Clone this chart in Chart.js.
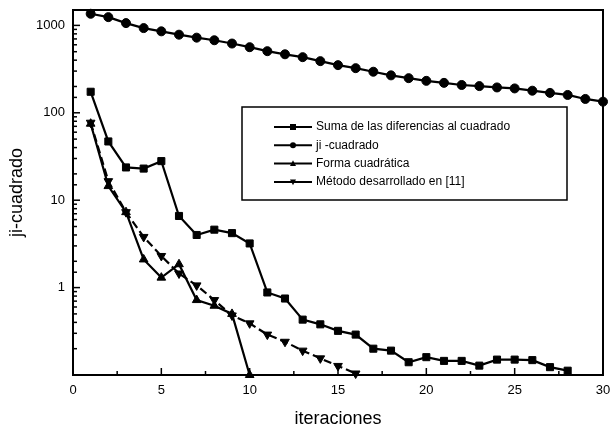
<!DOCTYPE html>
<html>
<head>
<meta charset="utf-8">
<script src="https://cdn.jsdelivr.net/npm/chart.js@4.4.1/dist/chart.umd.min.js"></script>
<style>
  html, body { margin: 0; padding: 0; background: #fff; }
  #wrap { width: 612px; height: 430px; }
</style>
</head>
<body>
<div id="wrap"><canvas id="chart" width="612" height="430"></canvas></div>
<script>
// values (log y axis)
const iteraciones = [1, 2, 3, 4, 5, 6, 7, 8, 9, 10, 11, 12, 13, 14, 15, 16, 17, 18, 19, 20, 21, 22, 23, 24, 25, 26, 27, 28, 29, 30];
const sumaDiferencias = [174, 47, 23.7, 23, 28, 6.6, 4.0, 4.6, 4.2, 3.2, 0.88, 0.75, 0.43, 0.38, 0.32, 0.29, 0.20, 0.19, 0.14, 0.16, 0.145, 0.145, 0.128, 0.15, 0.15, 0.148, 0.123, 0.112];
const jiCuadrado = [1358, 1243, 1062, 931, 855, 783, 724, 676, 620, 563, 507, 467, 433, 390, 351, 324, 295, 268, 249, 232, 220, 208, 202, 195, 190, 179, 169, 160, 144, 134];
const formaCuadratica = [75, 14.5, 7.3, 2.1, 1.3, 1.85, 0.72, 0.62, 0.5, 0.1];
const metodo11 = [77, 16.5, 7.3, 3.8, 2.3, 1.45, 1.06, 0.72, 0.48, 0.39, 0.29, 0.24, 0.19, 0.155, 0.127, 0.104];
const etiquetas = ['Suma de las diferencias al cuadrado', 'ji -cuadrado', 'Forma cuadrática', 'Método desarrollado en [11]'];
const yLabels = [1, 10, 100, 1000];

const FONT = "'Liberation Sans', Arial, sans-serif";

function pts(vals) {
    return vals.map((v, i) => ({ x: iteraciones[i], y: v }));
}

function drawMarker(ctx, style, x, y, r) {
    ctx.beginPath();
    if (style === 'rect') {
        ctx.rect(x - r, y - r, 2 * r, 2 * r);
    } else if (style === 'circle') {
        ctx.arc(x, y, r, 0, Math.PI * 2);
    } else if (style === 'up') {
        ctx.moveTo(x, y - r * 1.1);
        ctx.lineTo(x + r, y + r * 0.8);
        ctx.lineTo(x - r, y + r * 0.8);
        ctx.closePath();
    } else {
        ctx.moveTo(x, y + r * 1.1);
        ctx.lineTo(x + r, y - r * 0.8);
        ctx.lineTo(x - r, y - r * 0.8);
        ctx.closePath();
    }
    ctx.fill();
}

// frame, inward ticks and the boxed legend
const framePlugin = {
    id: 'frame',
    afterDraw(chart) {
        const ctx = chart.ctx;
        const a = chart.chartArea;
        ctx.save();
        ctx.strokeStyle = '#000';
        ctx.lineWidth = 2;
        ctx.strokeRect(a.left, a.top, a.right - a.left, a.bottom - a.top);

        // y ticks pointing into the plot
        ctx.lineWidth = 1.5;
        const ys = chart.scales.y;
        ys.ticks.forEach(t => {
            const py = ys.getPixelForValue(t.value);
            if (py < a.top || py > a.bottom) return;
            const lg = Math.log10(t.value);
            const major = Math.abs(lg - Math.round(lg)) < 1e-6;
            ctx.beginPath();
            ctx.moveTo(a.left, py);
            ctx.lineTo(a.left + (major ? 7 : 4), py);
            ctx.stroke();
        });
        const xs = chart.scales.x;
        xs.ticks.forEach(t => {
            const px = xs.getPixelForValue(t.value);
            const major = t.value % 5 === 0;
            ctx.beginPath();
            ctx.moveTo(px, a.bottom);
            ctx.lineTo(px, a.bottom - (major ? 7 : 4));
            ctx.stroke();
        });

        // legend box
        const bx = a.left + 169, by = a.top + 97, bw = 325, bh = 93;
        ctx.fillStyle = '#fff';
        ctx.fillRect(bx, by, bw, bh);
        ctx.lineWidth = 1.5;
        ctx.strokeRect(bx, by, bw, bh);
        const styles = ['rect', 'circle', 'up', 'down'];
        ctx.font = '12px ' + FONT;
        ctx.textBaseline = 'middle';
        ctx.fillStyle = '#000';
        chart.data.datasets.forEach((ds, i) => {
            const ly = by + 20 + i * 18.3;
            const lx = bx + 32;
            ctx.lineWidth = 2;
            ctx.beginPath();
            ctx.moveTo(lx, ly);
            ctx.lineTo(lx + 38, ly);
            ctx.stroke();
            drawMarker(ctx, styles[i], lx + 19, ly, 3);
            ctx.fillText(ds.label, lx + 42, ly);
        });
        ctx.restore();
    }
};

const common = {
    borderColor: '#000',
    backgroundColor: '#000',
    pointBackgroundColor: '#000',
    pointBorderColor: '#000',
    borderWidth: 2.2,
    pointBorderWidth: 1,
    tension: 0,
    clip: false
};

new Chart(document.getElementById('chart').getContext('2d'), {
    type: 'line',
    data: {
        datasets: [
            Object.assign({ label: etiquetas[0], data: pts(sumaDiferencias), pointStyle: 'rect', pointRadius: 5 }, common),
            Object.assign({ label: etiquetas[1], data: pts(jiCuadrado), pointStyle: 'circle', pointRadius: 4.5 }, common),
            Object.assign({ label: etiquetas[2], data: pts(formaCuadratica), pointStyle: 'triangle', pointRadius: 5 }, common),
            Object.assign({ label: etiquetas[3], data: pts(metodo11), pointStyle: 'triangle', pointRotation: 180, pointRadius: 5, borderDash: [8, 4] }, common)
        ]
    },
    options: {
        responsive: false,
        animation: false,
        layout: { padding: { left: 0, right: 9, top: 10, bottom: 0 } },
        plugins: {
            legend: { display: false },
            tooltip: { enabled: false }
        },
        scales: {
            x: {
                type: 'linear',
                min: 0,
                max: 30,
                grid: { display: false, drawTicks: false },
                border: { display: false },
                ticks: {
                    stepSize: 2.5,
                    autoSkip: false,
                    maxRotation: 0,
                    padding: 8,
                    color: '#000',
                    font: { family: FONT, size: 13 },
                    callback: v => (v % 5 === 0 ? String(v) : '')
                },
                title: {
                    display: true,
                    text: 'iteraciones',
                    color: '#000',
                    font: { family: FONT, size: 18 },
                    padding: { top: 0, bottom: 0 }
                },
                afterFit: s => { s.height = 55; s.paddingLeft = 0; s.paddingRight = 0; }
            },
            y: {
                type: 'logarithmic',
                min: 0.1,
                max: 1500,
                grid: { display: false, drawTicks: false },
                border: { display: false },
                afterBuildTicks: s => { s.ticks = s.ticks.filter(t => t.value <= 1000); },
                ticks: {
                    autoSkip: false,
                    padding: 8,
                    color: '#000',
                    font: { family: FONT, size: 13 },
                    callback: v => (yLabels.some(l => Math.abs(l - v) < 1e-6 * l) ? String(Math.round(v)) : '')
                },
                title: {
                    display: true,
                    text: 'ji-cuadrado',
                    color: '#000',
                    font: { family: FONT, size: 18 },
                    padding: { top: 6, bottom: 0 }
                },
                afterFit: s => { s.width = 73; s.paddingTop = 0; s.paddingBottom = 0; }
            }
        }
    },
    plugins: [framePlugin]
});
</script>
</body>
</html>
